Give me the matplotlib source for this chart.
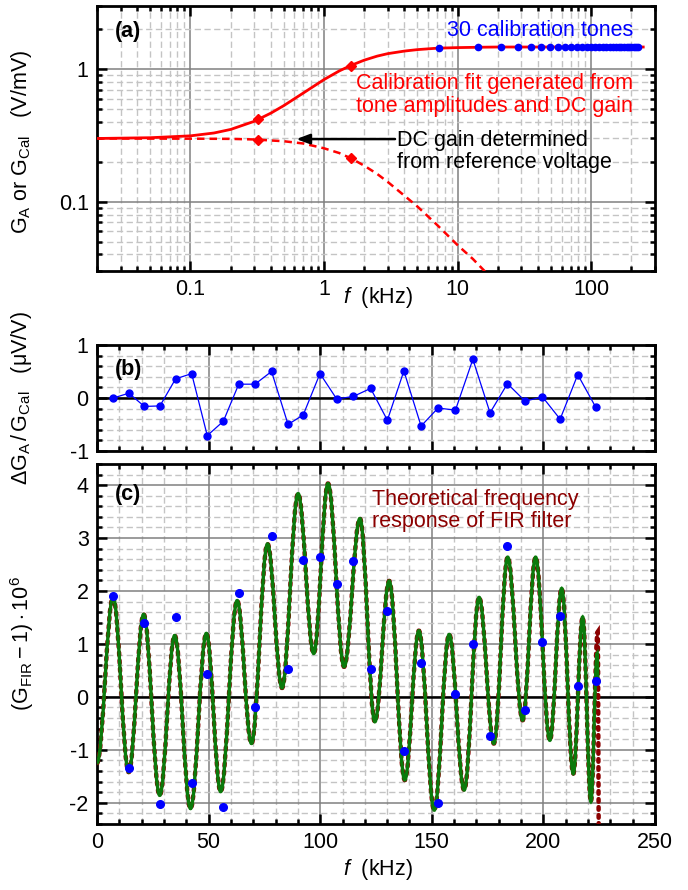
"""Calibration gain, residuals and FIR ripple for the 30 calibration tones."""

import matplotlib

matplotlib.use("Agg")
import matplotlib.pyplot as plt
from matplotlib.patches import PathPatch
from matplotlib.path import Path
from matplotlib.ticker import FixedLocator, LogLocator, MultipleLocator, NullFormatter

plt.rcParams["font.family"] = ["Liberation Sans", "DejaVu Sans"]
plt.rcParams["mathtext.fontset"] = "custom"
plt.rcParams["mathtext.rm"] = "Liberation Sans"
plt.rcParams["mathtext.it"] = "Liberation Sans:italic"
plt.rcParams["mathtext.bf"] = "Liberation Sans:bold"
plt.rcParams["axes.unicode_minus"] = False

FS = 15.5

# ---- panel (a): calibration fit (kHz, V/mV) ----
fit_f = [0.02, 0.05, 0.1, 0.15, 0.2, 0.3, 0.4, 0.5, 0.7, 1.0, 1.3, 1.6, 2.0, 2.5,
         3.0, 4.0, 5.0, 7.0, 10, 15, 20, 30, 50, 100, 245]
fit_g = [0.300, 0.304, 0.314, 0.330, 0.351, 0.404, 0.466, 0.531, 0.661, 0.835,
         0.970, 1.070, 1.170, 1.255, 1.310, 1.370, 1.405, 1.440, 1.455, 1.465,
         1.470, 1.470, 1.470, 1.470, 1.470]
dc_f = [0.02, 0.1, 0.2, 0.3, 0.5, 0.7, 1.0, 1.3, 1.6, 2.0, 2.5, 3.0, 4.0, 5.0,
        7.0, 10, 13, 17]
dc_g = [0.300, 0.299, 0.298, 0.295, 0.286, 0.275, 0.253, 0.233, 0.212, 0.187,
        0.162, 0.141, 0.111, 0.092, 0.067, 0.047, 0.037, 0.028]
diamond_f = [0.32, 1.6]
diamond_fit = [0.418, 1.066]
diamond_dc = [0.294, 0.212]

tone_f = [7.3, 14.3, 21.2, 28.2, 35.2, 42.4, 49.4, 56.6, 63.5, 70.8,
          78.2, 85.6, 92.4, 99.9, 107.4, 114.9, 122.6, 130.1, 137.5, 145.2,
          152.8, 160.6, 168.4, 176.1, 183.9, 191.8, 199.6, 207.5, 215.4, 223.4]
tone_gain = [1.45, 1.46, 1.47, 1.47, 1.47, 1.47, 1.47, 1.47, 1.47, 1.47,
             1.47, 1.47, 1.47, 1.47, 1.47, 1.47, 1.47, 1.47, 1.47, 1.47,
             1.47, 1.47, 1.47, 1.47, 1.47, 1.47, 1.47, 1.47, 1.47, 1.47]

# ---- panel (b): relative residual (uV/V) ----
residual = [0.00, 0.09, -0.16, -0.15, 0.36, 0.46, -0.71, -0.44, 0.26, 0.26,
            0.50, -0.50, -0.32, 0.46, -0.02, 0.03, 0.18, -0.42, 0.51, -0.53,
            -0.19, -0.23, 0.73, -0.28, 0.27, -0.06, 0.02, -0.40, 0.44, -0.17]

# ---- panel (c): (G_FIR - 1) * 1e6 ----
tone_fir = [1.90, -1.34, 1.40, -2.02, 1.50, -1.63, 0.43, -2.08, 1.97, -0.20,
            3.04, 0.52, 2.59, 2.65, 2.13, 2.56, 0.52, 1.62, -1.02, 0.64,
            -2.00, 0.05, 0.99, -0.74, 2.85, -0.25, 1.04, 1.53, 0.21, 0.30]
# turning points (peaks / troughs) of the measured ripple
ripple_f = [0, 7.2, 14.2, 20.9, 28.1, 34.8, 41.9, 49.0, 55.4, 62.8, 69.2, 76.4,
            82.9, 90.1, 97.1, 103.5, 110.7, 117.8, 124.5, 130.9, 137.9, 144.2,
            151.1, 157.8, 164.5, 171.2, 177.8, 184.0, 190.7, 196.5, 202.9, 208.2,
            213.4, 217.6, 221.3, 224.1, 224.5]
ripple_v = [-1.25, 1.89, -1.42, 1.56, -1.86, 1.16, -2.11, 1.20, -1.79, 1.82, -0.88,
            2.89, 0.17, 3.84, 0.82, 4.03, 0.57, 3.37, -0.47, 2.19, -1.57, 1.25,
            -2.14, 1.18, -1.76, 1.88, -0.88, 2.64, -0.44, 2.64, -0.82, 2.05,
            -1.45, 1.51, -1.98, 0.82, 0.25]
# theoretical response differs only in the last spike near Nyquist
theory_tail_f = [224.35, 224.9]
theory_tail_v = [1.23, -2.8]

MAJOR_GRID = dict(color="#808080", lw=1.1, ls="-")
MINOR_GRID = dict(color="#c4c4c4", lw=1.0, ls=(0, (4.5, 2.5)))


def style_axes(ax):
    for sp in ax.spines.values():
        sp.set_linewidth(2.0)
    ax.tick_params(which="both", direction="in", top=True, right=True,
                   width=1.8, labelsize=FS, pad=6)
    ax.tick_params(which="major", length=7)
    ax.tick_params(which="minor", length=3.5)
    ax.grid(True, which="major", **MAJOR_GRID)
    ax.grid(True, which="minor", **MINOR_GRID)
    ax.set_axisbelow(True)


def wave_path(fx, vy, k=0.364):
    # cubic segments with flat tangents at each turning point
    verts = [(fx[0], vy[0])]
    codes = [Path.MOVETO]
    for i in range(len(fx) - 1):
        dx = fx[i + 1] - fx[i]
        verts += [(fx[i] + k * dx, vy[i]), (fx[i + 1] - k * dx, vy[i + 1]),
                  (fx[i + 1], vy[i + 1])]
        codes += [Path.CURVE4] * 3
    return Path(verts, codes)


fig = plt.figure(figsize=(6.88, 8.90), dpi=100)
ax_a = fig.add_axes([0.141, 0.6955, 0.811, 0.2978])
ax_b = fig.add_axes([0.141, 0.4933, 0.811, 0.1191])
ax_c = fig.add_axes([0.141, 0.0742, 0.811, 0.4045])

# (a)
ax_a.set_xscale("log")
ax_a.set_yscale("log")
ax_a.set_xlim(0.02, 300)
ax_a.set_ylim(0.03, 3)
ax_a.plot(fit_f, fit_g, color="red", lw=2.0, zorder=3)
ax_a.plot(dc_f, dc_g, color="red", lw=1.8, ls=(0, (3, 2)), zorder=3)
ax_a.plot(diamond_f, diamond_fit, ls="none", marker="D", ms=5, color="red", zorder=4)
ax_a.plot(diamond_f, diamond_dc, ls="none", marker="D", ms=5, color="red", zorder=4)
ax_a.plot(tone_f, tone_gain, ls="none", marker="o", ms=4.5, color="blue", zorder=5)
ax_a.xaxis.set_major_locator(FixedLocator([0.1, 1, 10, 100]))
ax_a.set_xticklabels(["0.1", "1", "10", "100"])
ax_a.xaxis.set_minor_locator(LogLocator(base=10, subs=range(2, 10), numticks=20))
ax_a.xaxis.set_minor_formatter(NullFormatter())
ax_a.yaxis.set_major_locator(FixedLocator([0.1, 1]))
ax_a.set_yticklabels(["0.1", "1"])
ax_a.yaxis.set_minor_locator(LogLocator(base=10, subs=range(2, 10), numticks=20))
ax_a.yaxis.set_minor_formatter(NullFormatter())
style_axes(ax_a)
ax_a.text(0.032, 0.902, "(a)", transform=ax_a.transAxes, fontsize=FS,
          fontweight="bold", ha="left", va="center")
ax_a.text(0.961, 0.909, "30 calibration tones", transform=ax_a.transAxes,
          fontsize=FS, color="blue", ha="right", va="center")
ax_a.text(0.464, 0.665, "Calibration fit generated from\ntone amplitudes and DC gain",
          transform=ax_a.transAxes, fontsize=FS, color="red", ha="left",
          va="center", linespacing=1.1)
ax_a.text(0.537, 0.451, "DC gain determined\nfrom reference voltage",
          transform=ax_a.transAxes, fontsize=FS, color="black", ha="left",
          va="center", linespacing=1.1)
ax_a.annotate("", xy=(0.62, 0.297), xytext=(3.4, 0.297),
              arrowprops=dict(arrowstyle="-|>,head_length=0.8,head_width=0.3",
                              color="black", lw=1.8, shrinkA=0, shrinkB=0))

# (b)
ax_b.set_xlim(0, 250)
ax_b.set_ylim(-1, 1)
ax_b.axhline(0, color="black", lw=1.8, zorder=2)
ax_b.plot(tone_f, residual, color="blue", lw=0.9, marker="o", ms=5, zorder=4)
ax_b.xaxis.set_major_locator(MultipleLocator(50))
ax_b.xaxis.set_minor_locator(MultipleLocator(10))
ax_b.yaxis.set_major_locator(MultipleLocator(1))
ax_b.yaxis.set_minor_locator(MultipleLocator(0.2))
style_axes(ax_b)
ax_b.tick_params(labelbottom=False)
ax_b.text(0.032, 0.764, "(b)", transform=ax_b.transAxes, fontsize=FS,
          fontweight="bold", ha="left", va="center")

# (c)
ax_c.set_xlim(0, 250)
ax_c.set_ylim(-2.4, 4.4)
ax_c.axhline(0, color="black", lw=1.8, zorder=2)
theory = wave_path(ripple_f[:-2] + theory_tail_f, ripple_v[:-2] + theory_tail_v)
ax_c.add_patch(PathPatch(theory, fill=False, edgecolor="#8b0000", lw=3.2,
                         ls=(0, (0.6, 1.2)), capstyle="round", zorder=3))
ax_c.add_patch(PathPatch(wave_path(ripple_f, ripple_v), fill=False,
                         edgecolor="#0b7a0b", lw=2.4, zorder=4))
ax_c.plot(tone_f, tone_fir, ls="none", marker="o", ms=5.5, color="blue", zorder=5)
ax_c.xaxis.set_major_locator(MultipleLocator(50))
ax_c.xaxis.set_minor_locator(MultipleLocator(10))
ax_c.yaxis.set_major_locator(MultipleLocator(1))
ax_c.yaxis.set_minor_locator(MultipleLocator(0.2))
style_axes(ax_c)
ax_c.text(0.032, 0.914, "(c)", transform=ax_c.transAxes, fontsize=FS,
          fontweight="bold", ha="left", va="center")
ax_c.text(0.492, 0.871, "Theoretical frequency\nresponse of FIR filter",
          transform=ax_c.transAxes, fontsize=FS, color="#8b0000", ha="left",
          va="center", linespacing=1.1)

# axis labels
fig.text(22 / 688, 1 - 142 / 890, r"$\mathrm{G_A\ or\ G_{Cal}}$   (V/mV)",
         rotation=90, ha="center", va="center", fontsize=FS)
fig.text(22 / 688, 1 - 398 / 890, r"$\Delta\mathrm{G_A\,/\,G_{Cal}}$   (μV/V)",
         rotation=90, ha="center", va="center", fontsize=FS)
fig.text(22 / 688, 1 - 644 / 890, r"$(\mathrm{G_{FIR}} - 1)\cdot 10^6$",
         rotation=90, ha="center", va="center", fontsize=FS)
fig.text(378 / 688, 1 - 297 / 890, r"$f$  (kHz)", ha="center", va="center", fontsize=FS)
fig.text(378 / 688, 1 - 869 / 890, r"$f$  (kHz)", ha="center", va="center", fontsize=FS)

fig.savefig("out.png", dpi=100)
plt.close(fig)
